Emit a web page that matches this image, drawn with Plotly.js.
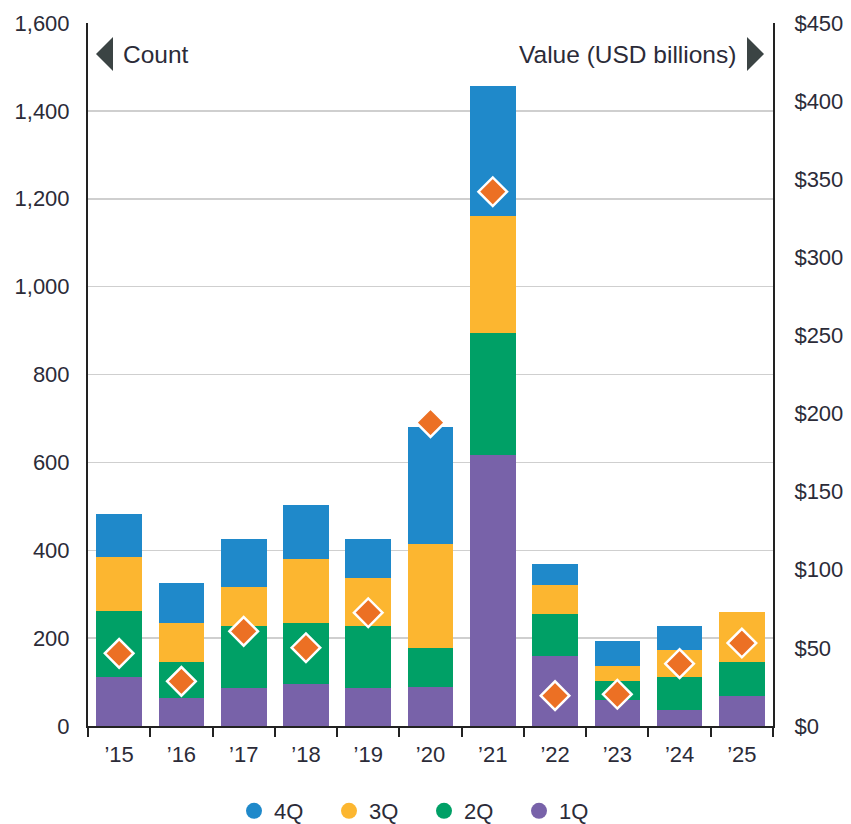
<!DOCTYPE html>
<html>
<head>
<meta charset="utf-8">
<script src="https://cdn.plot.ly/plotly-3.0.1.min.js"></script>
<style>html,body{margin:0;padding:0;background:#fff;}#chart{width:851px;height:824px;}</style>
</head>
<body>
<div id="chart"></div>
<script>
const years = ["’15","’16","’17","’18","’19","’20","’21","’22","’23","’24","’25"];
const q1 = [111, 64, 87, 95, 87, 88, 617, 160, 60, 36, 68];
const q2 = [151, 82, 141, 140, 141, 89, 278, 95, 42, 75, 77];
const q3 = [122, 89, 89, 144, 109, 237, 266, 66, 35, 61, 114];
const q4 = [98, 90, 109, 125, 89, 266, 296, 47, 56, 56, 0];
const valueUSDbn = [46.5, 28.6, 60.6, 50.1, 72.5, 194.2, 342, 19.4, 20.3, 39.9, 53.1];
const countTicks = [0, 200, 400, 600, 800, 1000, 1200, 1400, 1600];
const valueTicks = [0, 50, 100, 150, 200, 250, 300, 350, 400, 450];
const valueTickText = valueTicks.map(v => "$" + v);

const colors = {q1:"#7862a9", q2:"#00a066", q3:"#fcb630", q4:"#1f89ca", dia:"#ec7024"};
const FONT = "Liberation Sans, Arial, sans-serif";
const txt = "#2b2b38";

function barTrace(y, name, color){
  return {type:"bar", x:years, y:y, name:name, marker:{color:color, line:{width:0}}, showlegend:false, hoverinfo:"y"};
}
function legTrace(name, color){
  return {type:"scatter", mode:"markers", x:[null], y:[null], name:name, marker:{color:color, size:18, symbol:"circle"}, showlegend:true};
}
const data = [
  barTrace(q1,"1Q",colors.q1),
  barTrace(q2,"2Q",colors.q2),
  barTrace(q3,"3Q",colors.q3),
  barTrace(q4,"4Q",colors.q4),
  {type:"scatter", mode:"markers", x:years, y:valueUSDbn, yaxis:"y2", showlegend:false,
   marker:{symbol:"diamond", size:22, color:colors.dia, line:{color:"#ffffff", width:2.5}}},
  legTrace("1Q",colors.q1), legTrace("2Q",colors.q2), legTrace("3Q",colors.q3), legTrace("4Q",colors.q4)
];

// paper coordinate helpers for decorations (plot area: x 88..773, y 23..726)
const px = v => (v-88)/685, py = v => (726-v)/703;

const layout = {
  width:851, height:824,
  margin:{l:88, r:78, t:23, b:98, autoexpand:false},
  paper_bgcolor:"#fff", plot_bgcolor:"#fff",
  barmode:"stack", bargap:0.267,
  font:{family:FONT, size:22, color:txt},
  xaxis:{type:"category", range:[-0.5, 10.5], showline:true, linecolor:"#222", linewidth:2, ticks:"outside", tickson:"boundaries",
    ticklen:9, tickwidth:2, tickcolor:"#222", showgrid:false, tickfont:{size:22, color:txt}, ticklabelstandoff:8},
  yaxis:{range:[0,1600], tickvals:countTicks, tickformat:",", showline:true, linecolor:"#222", linewidth:2,
    ticks:"", showgrid:true, gridcolor:"#cfcfcf", gridwidth:1.5, zeroline:false, ticklabelstandoff:12,
    tickfont:{size:22, color:txt}},
  yaxis2:{range:[0,450], tickvals:valueTicks, ticktext:valueTickText, overlaying:"y", side:"right", showline:true,
    linecolor:"#222", linewidth:2, ticks:"", showgrid:false, zeroline:false, ticklabelstandoff:15,
    tickfont:{size:22, color:txt}},
  legend:{orientation:"h", traceorder:"reversed", x:px(234), xanchor:"left", yref:"container", y:(824-811)/824, yanchor:"middle",
    entrywidth:50, entrywidthmode:"pixels", font:{size:22, color:txt}},
  shapes:[
    {type:"path", xref:"paper", yref:"paper", path:`M ${px(113)},${py(37)} L ${px(96)},${py(54)} L ${px(113)},${py(71)} Z`, fillcolor:"#3b4444", line:{width:0}},
    {type:"path", xref:"paper", yref:"paper", path:`M ${px(747)},${py(37)} L ${px(764)},${py(54)} L ${px(747)},${py(71)} Z`, fillcolor:"#3b4444", line:{width:0}}
  ],
  annotations:[
    {xref:"paper", yref:"paper", x:px(121), y:py(54), xanchor:"left", yanchor:"middle", text:"Count", showarrow:false, font:{size:24.5, color:txt}},
    {xref:"paper", yref:"paper", x:px(738), y:py(54), xanchor:"right", yanchor:"middle", text:"Value (USD billions)", showarrow:false, font:{size:24.5, color:txt}}
  ]
};
Plotly.newPlot("chart", data, layout, {displayModeBar:false, staticPlot:true});
</script>
</body>
</html>
